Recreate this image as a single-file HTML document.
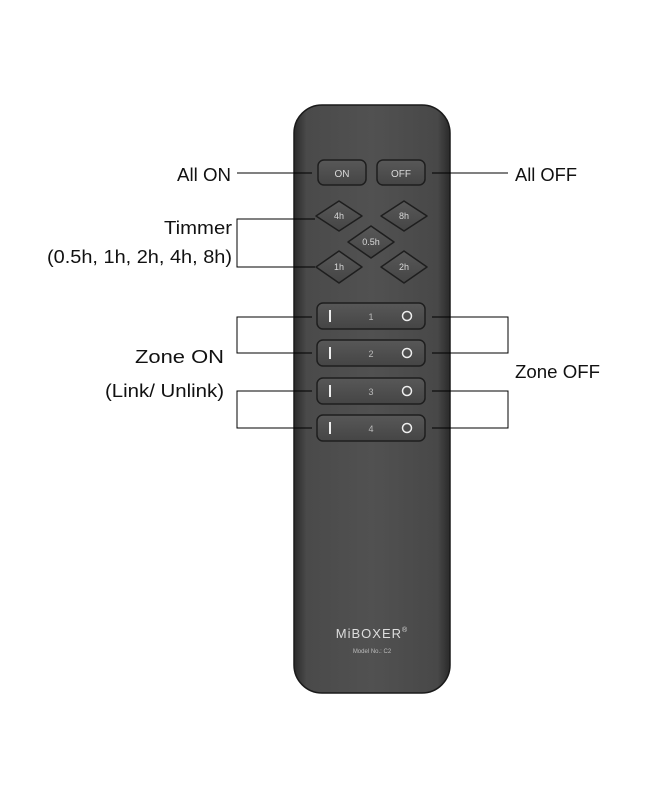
<!DOCTYPE html>
<html><head><style>
body{margin:0;background:#fff;width:650px;height:800px;overflow:hidden;font-family:"Liberation Sans",sans-serif}
</style></head><body>
<svg width="650" height="800" viewBox="0 0 650 800" xmlns="http://www.w3.org/2000/svg">
<defs>
<linearGradient id="body" x1="0" x2="1" y1="0" y2="0">
<stop offset="0" stop-color="#2a2a2a"/><stop offset="0.08" stop-color="#4a4a4a"/><stop offset="0.5" stop-color="#515151"/><stop offset="0.92" stop-color="#484848"/><stop offset="1" stop-color="#2a2a2a"/>
</linearGradient>
<linearGradient id="btn" x1="0" x2="0" y1="0" y2="1">
<stop offset="0" stop-color="#585858"/><stop offset="1" stop-color="#454545"/>
</linearGradient>
</defs>
<rect x="294" y="105" width="156" height="588" rx="28" fill="url(#body)" stroke="#1a1a1a" stroke-width="1.5"/>
<g stroke="#1e1e1e" stroke-width="1.5" fill="url(#btn)">
<rect x="318" y="160" width="48" height="25" rx="6"/>
<rect x="377" y="160" width="48" height="25" rx="6"/>
<path d="M339 201 L362 216 L339 231 L316 216 Z" stroke-linejoin="round"/>
<path d="M404 201 L427 216 L404 231 L381 216 Z" stroke-linejoin="round"/>
<path d="M371 226 L394 242 L371 258 L348 242 Z" stroke-linejoin="round"/>
<path d="M339 251 L362 267 L339 283 L316 267 Z" stroke-linejoin="round"/>
<path d="M404 251 L427 267 L404 283 L381 267 Z" stroke-linejoin="round"/>
<rect x="317" y="303" width="108" height="26" rx="6"/>
<rect x="317" y="340" width="108" height="26" rx="6"/>
<rect x="317" y="378" width="108" height="26" rx="6"/>
<rect x="317" y="415" width="108" height="26" rx="6"/>
</g>
<g fill="#d8d8d8" font-size="10" text-anchor="middle">
<text x="342" y="177">ON</text><text x="401" y="177">OFF</text>
<text x="339" y="219" font-size="9">4h</text><text x="404" y="219" font-size="9">8h</text>
<text x="371" y="245" font-size="9">0.5h</text>
<text x="339" y="270" font-size="9">1h</text><text x="404" y="270" font-size="9">2h</text>
<g fill="#bbb" font-size="9"><text x="371" y="320">1</text><text x="371" y="357">2</text><text x="371" y="395">3</text><text x="371" y="432">4</text></g>
</g>
<g stroke="#eee" stroke-width="2" fill="none">
<line x1="330" y1="310" x2="330" y2="322"/><circle cx="407" cy="316" r="4.5" stroke-width="1.5"/>
<line x1="330" y1="347" x2="330" y2="359"/><circle cx="407" cy="353" r="4.5" stroke-width="1.5"/>
<line x1="330" y1="385" x2="330" y2="397"/><circle cx="407" cy="391" r="4.5" stroke-width="1.5"/>
<line x1="330" y1="422" x2="330" y2="434"/><circle cx="407" cy="428" r="4.5" stroke-width="1.5"/>
</g>
<text x="372" y="638" fill="#ddd" font-size="13" text-anchor="middle" letter-spacing="1">MiBOXER<tspan font-size="7" dy="-6">®</tspan></text>
<text x="372" y="653" fill="#bbb" font-size="6" text-anchor="middle">Model No.: C2</text>
<g stroke="#000" stroke-width="1" fill="none">
<line x1="237" y1="173" x2="312" y2="173"/>
<line x1="432" y1="173" x2="508" y2="173"/>
<polyline points="315,219 237,219 237,267 315,267"/>
<polyline points="312,317 237,317 237,353 312,353"/>
<polyline points="312,391 237,391 237,428 312,428"/>
<polyline points="432,317 508,317 508,353 432,353"/>
<polyline points="432,391 508,391 508,428 432,428"/>
</g>
<g fill="#111" font-size="18.5" lengthAdjust="spacingAndGlyphs">
<text x="177" y="181" textLength="54" lengthAdjust="spacingAndGlyphs">All ON</text>
<text x="515" y="181" textLength="62" lengthAdjust="spacingAndGlyphs">All OFF</text>
<text x="164" y="234" textLength="68" lengthAdjust="spacingAndGlyphs">Timmer</text>
<text x="47" y="263" textLength="185" lengthAdjust="spacingAndGlyphs">(0.5h, 1h, 2h, 4h, 8h)</text>
<text x="135" y="363" textLength="89" lengthAdjust="spacingAndGlyphs">Zone ON</text>
<text x="105" y="397" textLength="119" lengthAdjust="spacingAndGlyphs">(Link/ Unlink)</text>
<text x="515" y="378" textLength="85" lengthAdjust="spacingAndGlyphs">Zone OFF</text>
</g>
</svg>
</body></html>
